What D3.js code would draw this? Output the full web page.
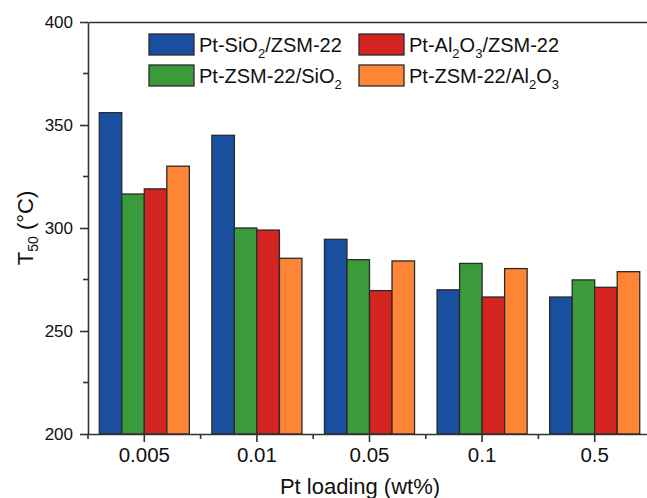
<!DOCTYPE html>
<html>
<head>
<meta charset="utf-8">
<script src="https://cdn.jsdelivr.net/npm/d3@7"></script>
<style>
  body { margin: 0; background: #fff; }
  text { font-family: "Liberation Sans", Arial, sans-serif; fill: #111; }
</style>
</head>
<body>
<div id="chart"></div>
<script>
// categories and series
var categories = ["0.005", "0.01", "0.05", "0.1", "0.5"];
var seriesNames = ["Pt-SiO_2/ZSM-22", "Pt-ZSM-22/SiO_2", "Pt-Al_2O_3/ZSM-22", "Pt-ZSM-22/Al_2O_3"];
var sio2Zsm   = [356, 345, 294.5, 270, 266.5];
var zsmSio2   = [316.5, 300, 284.6, 282.8, 274.8];
var al2o3Zsm  = [319, 299, 269.6, 266.5, 271.2];
var zsmAl2o3  = [330, 285.3, 284, 280.3, 278.8];
var seriesValues = [sio2Zsm, zsmSio2, al2o3Zsm, zsmAl2o3];
var colors = ["#1a4e9f", "#3b9b3c", "#d3241f", "#fe8536"];
var yTicks = [200, 250, 300, 350, 400];

var W = 647, H = 498;
var margin = {top: 22, left: 88, bottom: 64};
var plotRight = 651;
var height = H - margin.top - margin.bottom;

var svg = d3.select("#chart").append("svg")
    .attr("width", W)
    .attr("height", H);

// scales
var x0 = d3.scaleBand().domain(categories)
    .range([margin.left, plotRight])
    .paddingInner(0.2).paddingOuter(0.1);
var x1 = d3.scaleBand().domain(d3.range(seriesNames.length))
    .range([0, x0.bandwidth()]);
var y = d3.scaleLinear().domain([200, 400]).range([margin.top + height, margin.top]);

// bars
var rows = [];
categories.forEach(function(c, i) {
  seriesValues.forEach(function(vals, s) {
    rows.push({cat: c, s: s, value: vals[i]});
  });
});
svg.append("g").selectAll("rect").data(rows).enter().append("rect")
    .attr("x", d => x0(d.cat) + x1(d.s))
    .attr("y", d => y(d.value))
    .attr("width", x1.bandwidth())
    .attr("height", d => y(200) - y(d.value))
    .attr("fill", d => colors[d.s])
    .attr("stroke", "#2a2a2a")
    .attr("stroke-width", 1.3);

// helper for text with subscripts written as _N
function richText(sel, str, subSize, shift) {
  var parts = str.split(/_(\d)/);
  parts.forEach(function(p, i) {
    if (!p) return;
    if (i % 2 === 1) {
      sel.append("tspan").attr("font-size", subSize).attr("dy", shift).text(p);
    } else {
      sel.append("tspan").attr("dy", i > 0 ? -shift : 0).text(p);
    }
  });
}

var axisColor = "#333";

// minor ticks
var yMinor = d3.range(225, 400, 50);
var xMinor = categories.map(c => x0(c) - x0.step() * x0.paddingInner() / 2);

// y axis
var gy = svg.append("g").attr("transform", "translate(" + margin.left + ",0)")
    .call(d3.axisLeft(y).tickValues(yTicks).tickSize(8).tickSizeOuter(0).tickPadding(7));
gy.selectAll("text").attr("font-size", 17).style("font-family", "Liberation Sans, Arial, sans-serif").attr("fill", "#111");
gy.append("g").selectAll("line").data(yMinor).enter().append("line")
    .attr("x1", -5).attr("x2", 0)
    .attr("y1", d => y(d)).attr("y2", d => y(d));

// x axis
var gx = svg.append("g").attr("transform", "translate(0," + y(200) + ")")
    .call(d3.axisBottom(x0).tickSize(8).tickSizeOuter(0).tickPadding(5));
gx.selectAll("text").attr("font-size", 20.5).style("font-family", "Liberation Sans, Arial, sans-serif").attr("fill", "#111");
gx.append("g").selectAll("line").data(xMinor).enter().append("line")
    .attr("y1", 0).attr("y2", 5)
    .attr("x1", d => d).attr("x2", d => d);

// top frame line
var gt = svg.append("g").attr("transform", "translate(0," + margin.top + ")")
    .call(d3.axisTop(x0).tickValues([]).tickSizeOuter(0));

[gx, gy, gt].forEach(function(g) {
  g.selectAll("path, line").attr("stroke", axisColor).attr("stroke-width", 1.6);
});

// axis titles
svg.append("text")
    .attr("x", 360).attr("y", 494)
    .attr("text-anchor", "middle")
    .attr("font-size", 22)
    .text("Pt loading (wt%)");

var yt = svg.append("text")
    .attr("transform", "translate(33," + 228 + ") rotate(-90)")
    .attr("text-anchor", "middle")
    .attr("font-size", 22);
yt.append("tspan").text("T");
yt.append("tspan").attr("font-size", 14).attr("dy", 5).text("50");
yt.append("tspan").attr("dy", -5).text(" (°C)");

// legend
var legendPos = [[149, 34], [149, 65], [359, 34], [359, 65]];
seriesNames.forEach(function(name, i) {
  var g = svg.append("g").attr("transform", "translate(" + legendPos[i][0] + "," + legendPos[i][1] + ")");
  g.append("rect")
      .attr("width", 45).attr("height", 21)
      .attr("fill", colors[i])
      .attr("stroke", "#2a2a2a").attr("stroke-width", 1.3);
  var t = g.append("text").attr("x", 50).attr("y", 18).attr("font-size", 20);
  richText(t, name, 13, 6);
});
</script>
</body>
</html>
